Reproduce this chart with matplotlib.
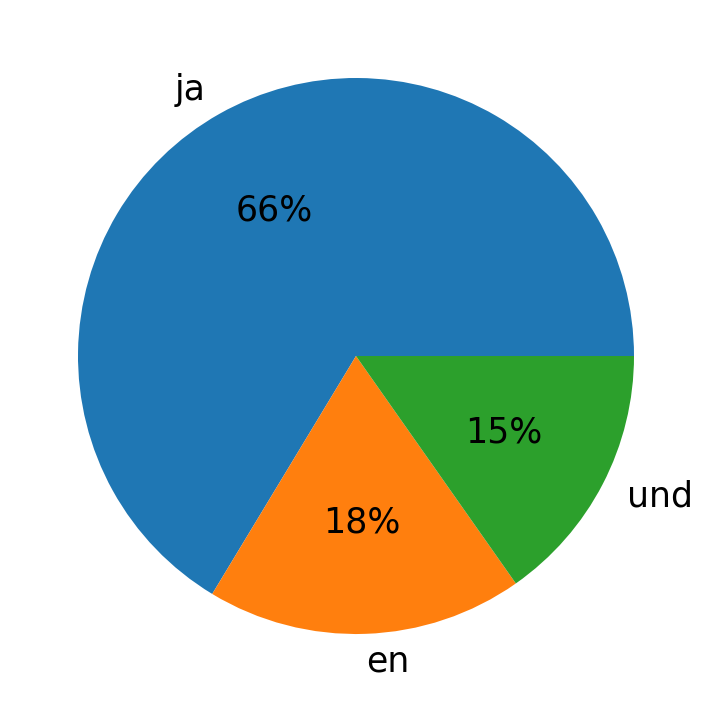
import matplotlib
matplotlib.use("Agg")
import matplotlib.pyplot as plt

# language share
labels = ["ja", "en", "und"]
values = [66.35, 18.4, 15.25]

fig = plt.figure(figsize=(7.12, 7.13), dpi=100)
ax = fig.add_axes([0, 0, 1, 1])

ax.pie(values, labels=labels, autopct="%1.0f%%",
       textprops={"fontsize": 25})

# radius of 278 px, centre at (356, 356) from top
r = 278.0
ax.set_xlim(-356 / r, 356 / r)
ax.set_ylim(-357 / r, 356 / r)
ax.set_aspect("auto")
ax.axis("off")

fig.savefig("out.png", dpi=100)
